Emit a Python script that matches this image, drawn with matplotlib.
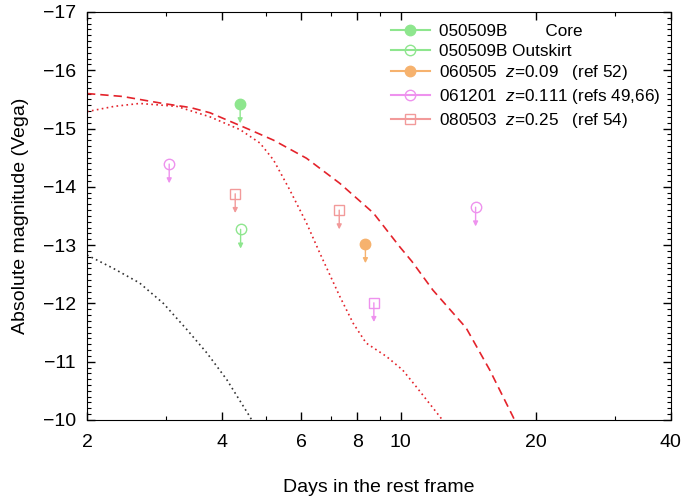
import matplotlib
matplotlib.use("Agg")
import matplotlib.pyplot as plt
from matplotlib.lines import Line2D
from matplotlib.ticker import FixedLocator, FixedFormatter, NullFormatter, MultipleLocator

plt.rcParams['font.family'] = ['Liberation Sans', 'DejaVu Sans']
plt.rcParams['mathtext.fontset'] = 'custom'
plt.rcParams['mathtext.it'] = 'Liberation Sans:italic'
plt.rcParams['mathtext.rm'] = 'Liberation Sans'

# model curves (days, absolute magnitude)
dash_days = [2.0, 2.4, 2.95, 3.4, 3.76, 4.39, 4.61, 5.21, 6.17, 7.32, 8.70, 9.96, 10.6, 11.8, 14.0, 15.8, 17.8, 18.0]
dash_mag = [-15.60, -15.55, -15.43, -15.36, -15.27, -15.05, -14.98, -14.80, -14.49, -14.06, -13.55, -12.97, -12.72, -12.23, -11.58, -10.86, -10.06, -9.98]

dot_days = [2.0, 2.3, 2.62, 3.17, 3.76, 4.39, 4.86, 5.21, 5.66, 6.17, 6.61, 7.32, 7.84, 8.38, 9.30, 10.1, 10.84, 12.4, 12.6]
dot_mag = [-15.29, -15.38, -15.43, -15.38, -15.20, -14.98, -14.75, -14.46, -13.95, -13.38, -12.86, -12.12, -11.66, -11.32, -11.09, -10.86, -10.57, -10.0, -9.95]

blk_days = [2.0, 2.29, 2.62, 2.96, 3.34, 3.70, 4.10, 4.61, 4.70]
blk_mag = [-12.83, -12.60, -12.35, -12.0, -11.55, -11.15, -10.69, -10.06, -9.95]

# upper limits
core_days, core_mag = [4.39], [-15.42]
outsk_days, outsk_mag = [4.40], [-13.27]
g060505_days, g060505_mag = [8.35], [-13.02]
g061201_days, g061201_mag = [3.05, 14.7], [-14.39, -13.65]
g080503_days, g080503_mag = [4.28, 7.30], [-13.88, -13.60]
g080503b_days, g080503b_mag = [8.72], [-12.01]

labels = ['050509B        Core',
          '050509B Outskirt',
          '060505  $z$=0.09   (ref 52)',
          '061201  $z$=0.111 (refs 49,66)',
          '080503  $z$=0.25   (ref 54)']

green = '#8ee68e'
orange = '#f6b26e'
violet = '#ee92ee'
pink = '#f29a9a'
red = '#e4232b'

fig = plt.figure(figsize=(6.85, 4.97), dpi=100)
ax = fig.add_axes([0.127, 0.155, 0.852, 0.821])

ax.plot(dash_days, dash_mag, color=red, lw=1.2, ls=(0, (5, 3)))
ax.plot(dot_days, dot_mag, color=red, lw=1.2, ls=(0, (1, 2)))
ax.plot(blk_days, blk_mag, color='#333333', lw=1.2, ls=(0, (1, 2)))

points = [
    (core_days, core_mag, 'o', green, True),
    (outsk_days, outsk_mag, 'o', green, False),
    (g060505_days, g060505_mag, 'o', orange, True),
    (g061201_days, g061201_mag, 'o', violet, False),
    (g080503_days, g080503_mag, 's', pink, False),
    (g080503b_days, g080503b_mag, 's', violet, False),
]
for xs, ys, mk, c, filled in points:
    for x, y in zip(xs, ys):
        ax.annotate('', xy=(x, y + 0.33), xytext=(x, y),
                    arrowprops=dict(arrowstyle='-|>', color=c, lw=1.0,
                                    mutation_scale=7, shrinkA=0, shrinkB=0))
    ax.plot(xs, ys, ls='none', marker=mk, ms=7.5,
            mfc=c if filled else 'none', mec=c, mew=1.0)

handles = [
    Line2D([], [], color=green, marker='o', ms=7.5, mfc=green, mec=green),
    Line2D([], [], color=green, marker='o', ms=7.5, mfc='none', mec=green),
    Line2D([], [], color=orange, marker='o', ms=7.5, mfc=orange, mec=orange),
    Line2D([], [], color=violet, marker='o', ms=7.5, mfc='none', mec=violet),
    Line2D([], [], color=pink, marker='s', ms=7.5, mfc='none', mec=pink),
]
ax.legend(handles, labels, loc='upper left', bbox_to_anchor=(0.5, 1.0),
          frameon=False, fontsize=12.3, handlelength=2.3, handletextpad=0.5,
          labelspacing=0.28, borderaxespad=0.3)

ax.set_xscale('log')
ax.set_xlim(2, 40)
ax.set_ylim(-10, -17)

ax.xaxis.set_major_locator(FixedLocator([2, 4, 6, 8, 10, 20, 40]))
ax.xaxis.set_minor_locator(FixedLocator([3, 5, 7, 9, 30]))
ax.xaxis.set_major_formatter(FixedFormatter(['2', '4', '6', '8', '10', '20', '40']))
ax.xaxis.set_minor_formatter(NullFormatter())
ax.yaxis.set_major_locator(MultipleLocator(1))
ax.yaxis.set_minor_locator(MultipleLocator(0.1))

ax.tick_params(which='both', direction='in', top=True, right=True, labelsize=14)
ax.tick_params(which='major', length=6, width=1, pad=8)
ax.tick_params(axis='x', which='major', pad=10)
ax.tick_params(which='minor', length=3, width=0.8)

ax.set_xlabel('Days in the rest frame', fontsize=14, labelpad=20)
ax.set_ylabel('Absolute magnitude (Vega)', fontsize=14, labelpad=10)

fig.savefig('out.png', dpi=100)
